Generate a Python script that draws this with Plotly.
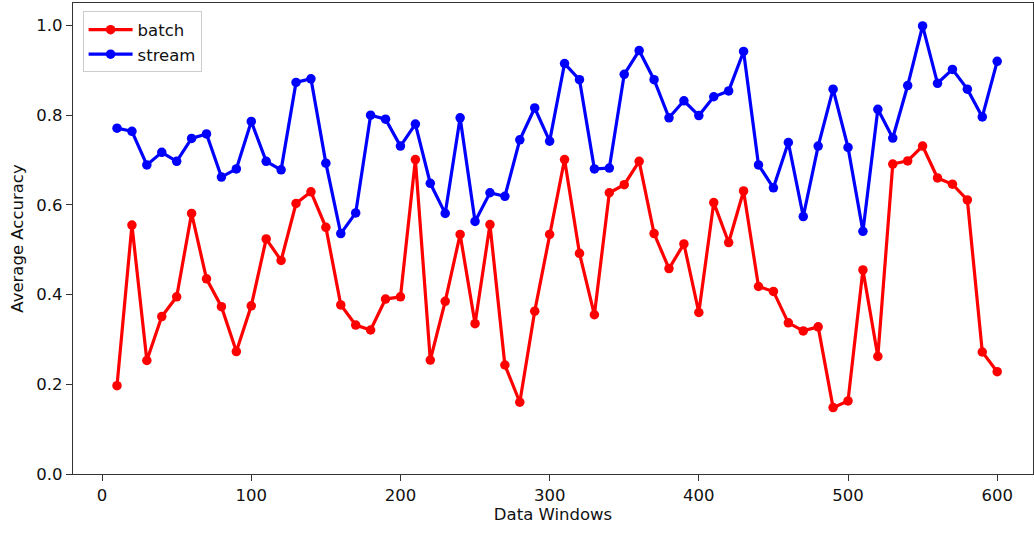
import plotly.graph_objects as go

windows = list(range(10, 610, 10))
batch = [0.197, 0.555, 0.253, 0.351, 0.395, 0.581, 0.435, 0.373, 0.273, 0.375,
         0.524, 0.476, 0.603, 0.629, 0.550, 0.377, 0.332, 0.321, 0.390, 0.395,
         0.701, 0.254, 0.385, 0.534, 0.335, 0.556, 0.243, 0.160, 0.363, 0.534,
         0.701, 0.492, 0.355, 0.627, 0.645, 0.697, 0.536, 0.458, 0.513, 0.360,
         0.605, 0.516, 0.631, 0.418, 0.407, 0.337, 0.319, 0.328, 0.148, 0.163,
         0.455, 0.262, 0.691, 0.698, 0.731, 0.660, 0.646, 0.611, 0.272, 0.228]
stream = [0.771, 0.764, 0.689, 0.717, 0.697, 0.748, 0.758, 0.662, 0.680, 0.786,
          0.697, 0.678, 0.873, 0.881, 0.693, 0.536, 0.582, 0.800, 0.791, 0.731,
          0.780, 0.648, 0.581, 0.794, 0.563, 0.627, 0.619, 0.745, 0.816, 0.742,
          0.915, 0.879, 0.680, 0.682, 0.891, 0.944, 0.879, 0.794, 0.832, 0.799,
          0.841, 0.854, 0.942, 0.689, 0.638, 0.739, 0.574, 0.731, 0.858, 0.728,
          0.541, 0.813, 0.749, 0.866, 0.999, 0.871, 0.902, 0.858, 0.796, 0.920]
x_ticks = [0, 100, 200, 300, 400, 500, 600]
y_ticks = [0.0, 0.2, 0.4, 0.6, 0.8, 1.0]

FONT = "DejaVu Sans"
FS = 16.5

fig = go.Figure()
fig.add_trace(go.Scatter(x=windows, y=batch, name="batch", mode="lines+markers",
                         line=dict(color="#ff0000", width=3.2),
                         marker=dict(color="#ff0000", size=9.5)))
fig.add_trace(go.Scatter(x=windows, y=stream, name="stream", mode="lines+markers",
                         line=dict(color="#0000ff", width=3.2),
                         marker=dict(color="#0000ff", size=9.5)))

axis_common = dict(showgrid=False, zeroline=False, showline=True, linecolor="#333333",
                   linewidth=1.3, mirror=True, ticks="outside", ticklen=6,
                   tickcolor="#333333", automargin=False,
                   tickfont=dict(family=FONT, size=FS, color="#111111"))
fig.update_xaxes(range=[-19.5, 624], tickvals=x_ticks,
                 title=dict(text="Data Windows", font=dict(family=FONT, size=FS, color="#111111"), standoff=4),
                 **axis_common)
fig.update_yaxes(range=[0, 1.05], tickvals=y_ticks, tickformat=".1f",
                 title=dict(text="Average Accuracy", font=dict(family=FONT, size=FS, color="#111111"), standoff=8),
                 **axis_common)

fig.update_layout(
    width=1034, height=533,
    margin=dict(l=73, r=1, t=3, b=59, autoexpand=False),
    plot_bgcolor="white", paper_bgcolor="white",
    font=dict(family=FONT, size=FS, color="#111111"),
    legend=dict(x=0.01, y=0.982, xanchor="left", yanchor="top",
                bgcolor="rgba(255,255,255,0.8)", bordercolor="#cccccc", borderwidth=1,
                itemwidth=44, tracegroupgap=0,
                font=dict(family=FONT, size=FS, color="#111111")),
)

fig.write_html("out.html", config={"displayModeBar": False},
               post_script="document.body.style.margin='0';document.body.style.padding='0';")
